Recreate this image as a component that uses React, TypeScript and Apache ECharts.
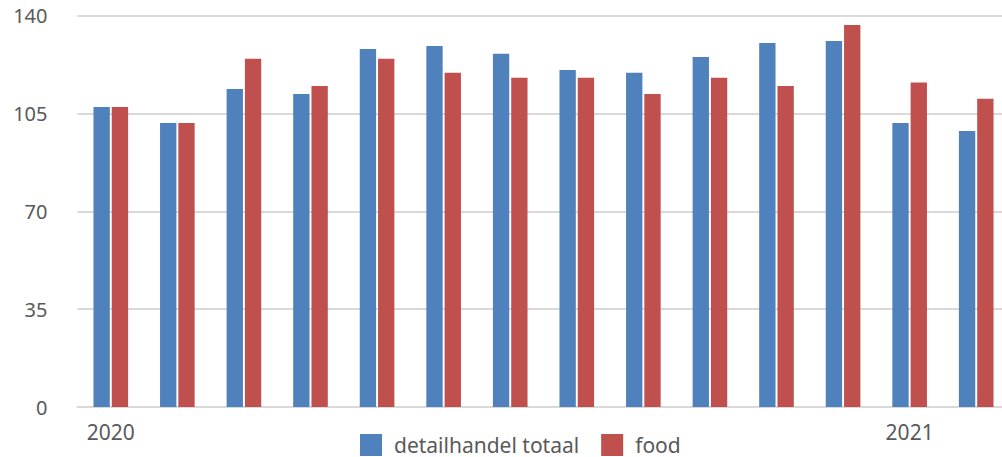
import React, { useEffect, useRef } from "react";
import * as echarts from "echarts";

const categories = ["2020", "", "", "", "", "", "", "", "", "", "", "", "2021", ""];
const seriesNames = ["detailhandel totaal", "food"];
const totalValues = [107.3, 101.6, 113.7, 111.9, 128.0, 129.1, 126.3, 120.5, 119.5, 125.2, 130.2, 130.9, 101.6, 98.7];
const foodValues = [107.3, 101.6, 124.5, 114.8, 124.5, 119.5, 117.7, 117.7, 111.9, 117.7, 114.8, 136.6, 116.0, 110.2];
const yTicks = [0, 35, 70, 105, 140];

export default function App() {
  const ref = useRef<HTMLDivElement>(null);
  useEffect(() => {
    if (!ref.current) return;
    const chart = echarts.init(ref.current, null, { renderer: "svg" });
    const font = "'Noto Sans', 'Open Sans', sans-serif";
    chart.setOption({
      animation: false,
      textStyle: { fontFamily: font },
      grid: { left: 77.5, right: 2.5, top: 15.5, bottom: 50, containLabel: false },
      legend: {
        left: 360,
        top: 434,
        padding: 0,
        itemWidth: 22,
        itemHeight: 22,
        itemGap: 22,
        icon: "rect",
        textStyle: { fontSize: 21, lineHeight: 18, color: "#595959", fontFamily: font, padding: [0, 0, 0, 7] },
        data: seriesNames,
      },
      xAxis: {
        type: "category",
        data: categories,
        axisLine: { lineStyle: { color: "#d9d9d9", width: 2 } },
        axisTick: { show: false },
        axisLabel: { fontSize: 21, color: "#595959", margin: 14, interval: 0 },
      },
      yAxis: {
        type: "value",
        min: yTicks[0],
        max: yTicks[yTicks.length - 1],
        interval: 35,
        axisLine: { show: false },
        axisTick: { show: false },
        splitLine: { lineStyle: { color: "#d9d9d9", width: 2 } },
        axisLabel: { fontSize: 20, color: "#595959", margin: 30 },
      },
      series: [
        {
          name: seriesNames[0],
          type: "bar",
          data: totalValues,
          itemStyle: { color: "#4F81BD" },
          barGap: "12%",
          barCategoryGap: "48%",
        },
        {
          name: seriesNames[1],
          type: "bar",
          data: foodValues,
          itemStyle: { color: "#C0504D" },
          barGap: "12%",
          barCategoryGap: "48%",
        },
      ],
    });
    return () => chart.dispose();
  }, []);
  return (
    <div style={{ width: 1002, height: 457, position: "absolute", left: 0, top: 0, overflow: "hidden" }}>
      <div ref={ref} style={{ width: 1012, height: 457 }} />
    </div>
  );
}
